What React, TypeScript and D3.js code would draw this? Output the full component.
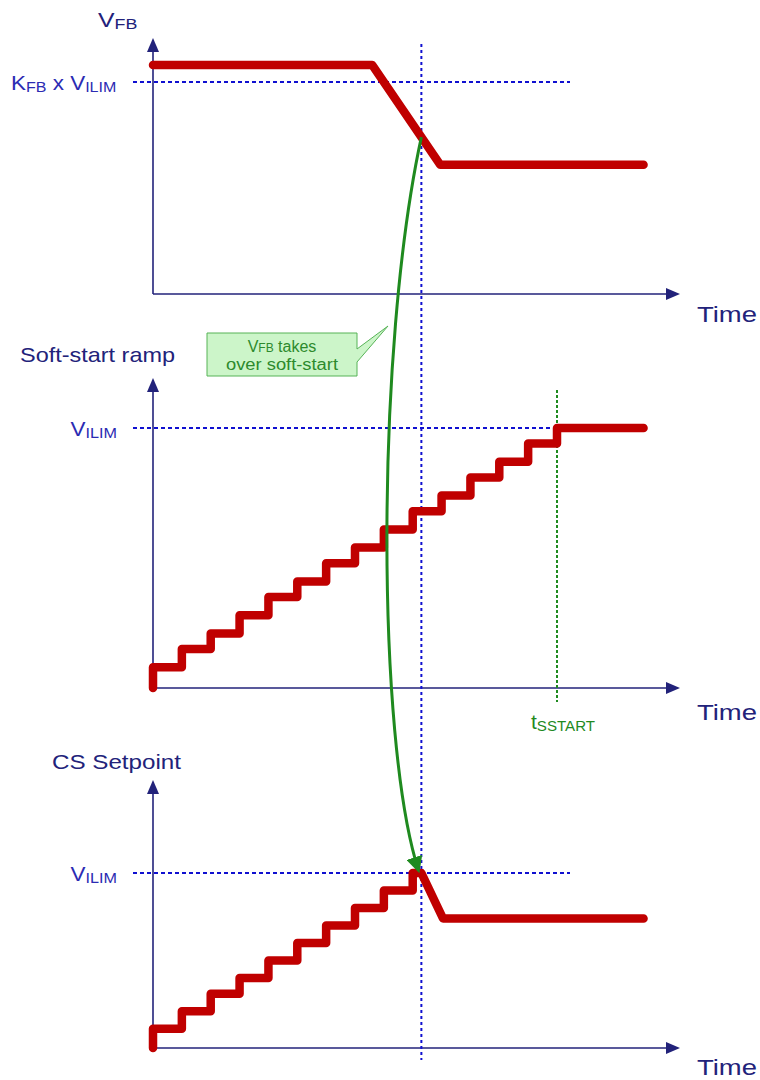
import React from "react";
import * as d3 from "d3";

// time in soft-start steps (one stair step = 1)
const STEP_END = 14;
const T_END = 17;
const TAKEOVER_T = 9.3;
const SSTART_T = 14;

// VFB panel (% of KFB x VILIM)
const vfbTime = [0, 7.6, 9.95, 17];
const vfbValue = [108, 108, 61, 61];

// soft-start ramp levels (% of VILIM), one per step, last one holds to T_END
const rampLevels = [8, 15, 21, 28, 35, 41, 48, 54, 61, 68, 74, 81, 87, 94, 100];

// CS setpoint levels (% of VILIM) until VFB takes over
const csLevels = [11, 21, 31, 40, 50, 60, 70, 80, 90, 100];
const csAfterTime = [9.3, 10.05, 17];
const csAfterValue = [100, 74, 74];

// panel layout (pixels): axis zero, 100% reference line, top of y axis
const panels = [
  { zero: 294, ref: 82, top: 38 },
  { zero: 688, ref: 428, top: 378 },
  { zero: 1048, ref: 873, top: 780 },
];

const NAVY = "#22227a";
const BLUE = "#2b2bb3";
const DASH_BLUE = "#1010d0";
const RED = "#c00000";
const GREEN = "#1f8a1f";
const FONT = "'Liberation Sans', Arial, sans-serif";

const x = d3.scaleLinear().domain([0, STEP_END]).range([153, 557]);
const X_AXIS_END = 680;

const ys = panels.map((p) => d3.scaleLinear().domain([0, 100]).range([p.zero, p.ref]));

const line = d3.line<[number, number]>();

function stairs(levels: number[], lastEnd: number): [number, number][] {
  const pts: [number, number][] = [[0, 0]];
  levels.forEach((l, i) => {
    pts.push([i, l]);
    pts.push([i === levels.length - 1 ? lastEnd : i + 1, l]);
  });
  return pts;
}

function Axes({ i }: { i: number }) {
  const p = panels[i];
  const x0 = x(0);
  return (
    <g stroke={NAVY} fill={NAVY}>
      <line x1={x0} y1={p.zero} x2={x0} y2={p.top + 10} strokeWidth={1.6} />
      <path d={`M${x0},${p.top} L${x0 - 6},${p.top + 14} L${x0 + 6},${p.top + 14} Z`} stroke="none" />
      <line x1={x0} y1={p.zero} x2={X_AXIS_END - 10} y2={p.zero} strokeWidth={1.6} />
      <path
        d={`M${X_AXIS_END},${p.zero} L${X_AXIS_END - 14},${p.zero - 6} L${X_AXIS_END - 14},${p.zero + 6} Z`}
        stroke="none"
      />
    </g>
  );
}

function Sub({ x: tx, y, main, sub, size, color, anchor, sx = 1 }: any) {
  return (
    <g transform={`translate(${tx},${y}) scale(${sx},1)`}>
      <text fill={color} fontFamily={FONT} fontSize={size} textAnchor={anchor || "start"}>
        {main}
        <tspan fontSize={size * 0.72} dy={2}>
          {sub}
        </tspan>
      </text>
    </g>
  );
}

export default function App() {
  const [y1, y2, y3] = ys;

  const vfbPts = vfbTime.map((t, i) => [x(t), y1(vfbValue[i])] as [number, number]);
  const rampPts = stairs(rampLevels, T_END).map(([t, v]) => [x(t), y2(v)] as [number, number]);
  const csPts = stairs(csLevels, TAKEOVER_T)
    .concat(csAfterTime.map((t, i) => [t, csAfterValue[i]] as [number, number]))
    .map(([t, v]) => [x(t), y3(v)] as [number, number]);

  // takeover point on the VFB slope
  const vfbAt = d3.scaleLinear().domain(vfbTime).range(vfbValue).clamp(true);
  const sx = x(TAKEOVER_T);
  const sy = y1(vfbAt(TAKEOVER_T));
  const ex = x(TAKEOVER_T) - 3;
  const ey = y3(100) - 3;
  const arc = d3.path();
  arc.moveTo(sx, sy);
  arc.bezierCurveTo(x(7.7), 350, x(7.75), 740, ex, ey);

  const dashEnd = 570;
  const refLabelX = 133;

  return (
    <div style={{ position: "absolute", left: 0, top: 0 }}>
      <svg width={760} height={1080} style={{ display: "block", background: "#fff" }}>
        <defs>
          <marker
            id="gArrow"
            viewBox="0 0 10 10"
            refX={8}
            refY={5}
            markerWidth={5.5}
            markerHeight={5.5}
            orient="auto"
          >
            <path d="M0,0 L10,5 L0,10 Z" fill={GREEN} />
          </marker>
        </defs>

        {panels.map((_, i) => (
          <Axes key={i} i={i} />
        ))}

        {/* reference dashed lines */}
        {ys.map((y, i) => (
          <line
            key={i}
            x1={refLabelX}
            x2={dashEnd}
            y1={y(100)}
            y2={y(100)}
            stroke={DASH_BLUE}
            strokeWidth={2}
            strokeDasharray="4 3"
          />
        ))}
        <line
          x1={x(TAKEOVER_T)}
          x2={x(TAKEOVER_T)}
          y1={44}
          y2={1060}
          stroke={DASH_BLUE}
          strokeWidth={2}
          strokeDasharray="3 3"
        />
        <line
          x1={x(SSTART_T)}
          x2={x(SSTART_T)}
          y1={390}
          y2={702}
          stroke={GREEN}
          strokeWidth={2}
          strokeDasharray="3 2"
        />

        {/* waveforms */}
        {[vfbPts, rampPts, csPts].map((pts, i) => (
          <path
            key={i}
            d={line(pts) || ""}
            fill="none"
            stroke={RED}
            strokeWidth={8.5}
            strokeLinejoin="round"
            strokeLinecap="round"
          />
        ))}

        {/* takeover arrow */}
        <path d={arc.toString()} fill="none" stroke={GREEN} strokeWidth={3} markerEnd="url(#gArrow)" />

        {/* callout */}
        <path
          d="M207,333 H357 V349 L388,326 L357,362 V376 H207 Z"
          fill="#ccf5c9"
          stroke="#57b357"
          strokeWidth={1}
        />
        <text x={282} y={352} textAnchor="middle" fill="#2d8a2d" fontFamily={FONT} fontSize={16}>
          V<tspan fontSize={12}>FB</tspan> takes
        </text>
        <text
          x={282}
          y={370}
          textAnchor="middle"
          fill="#2d8a2d"
          fontFamily={FONT}
          fontSize={16}
          textLength={112}
          lengthAdjust="spacingAndGlyphs"
        >
          over soft-start
        </text>

        {/* labels */}
        <Sub x={98} y={27} main="V" sub="FB" size={21} color={NAVY} sx={1.18} />
        <g transform="translate(11,90) scale(1.07,1)">
          <text fill={BLUE} fontFamily={FONT} fontSize={21}>
            K<tspan fontSize={15} dy={2}>FB</tspan>
            <tspan dy={-2}> x V</tspan>
            <tspan fontSize={15} dy={2}>ILIM</tspan>
          </text>
        </g>
        <Sub x={117} y={436} main="V" sub="ILIM" size={21} color={BLUE} anchor="end" sx={1.07} />
        <Sub x={117} y={881} main="V" sub="ILIM" size={21} color={BLUE} anchor="end" sx={1.07} />
        <Sub x={531} y={729} main="t" sub="SSTART" size={21} color={GREEN} />

        <text x={20} y={362} fill={NAVY} fontFamily={FONT} fontSize={21} textLength={155} lengthAdjust="spacingAndGlyphs">
          Soft-start ramp
        </text>
        <text x={52} y={769} fill={NAVY} fontFamily={FONT} fontSize={21} textLength={129} lengthAdjust="spacingAndGlyphs">
          CS Setpoint
        </text>
        {[322, 720, 1075].map((ty, i) => (
          <text
            key={i}
            x={697}
            y={ty}
            fill={NAVY}
            fontFamily={FONT}
            fontSize={22}
            textLength={60}
            lengthAdjust="spacingAndGlyphs"
          >
            Time
          </text>
        ))}
      </svg>
    </div>
  );
}
